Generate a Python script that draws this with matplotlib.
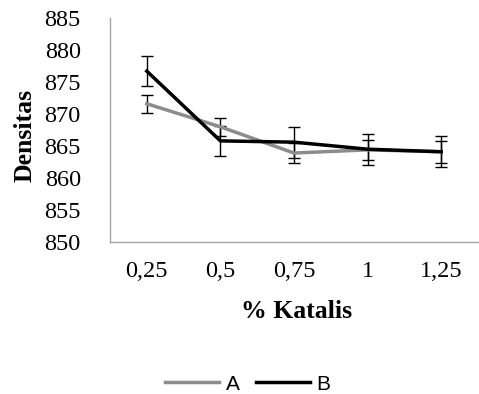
import numpy as np
import matplotlib.pyplot as plt

categories = ["0,25", "0,5", "0,75", "1", "1,25"]
series_a = [871.6, 868.0, 863.9, 864.4, 864.1]
series_b = [876.7, 865.8, 865.6, 864.5, 864.1]
err_a = [1.4, 1.4, 1.6, 1.6, 1.7]
err_b = [2.4, 2.4, 2.4, 2.4, 2.4]
y_ticks = [850, 855, 860, 865, 870, 875, 880, 885]

serif = ["Liberation Serif", "DejaVu Serif"]
sans = ["Liberation Sans", "DejaVu Sans"]
W, H = 479, 394

fig = plt.figure(figsize=(W / 100, H / 100), dpi=100)
ax = fig.add_axes([110 / W, 1 - 242 / H, 368 / W, 224 / H])

x = np.arange(len(categories))
ax.errorbar(x, series_a, yerr=err_a, color="#8c8c8c", linewidth=2.5,
            ecolor="black", elinewidth=1.0, capsize=4, capthick=1.0, label="A")
ax.errorbar(x, series_b, yerr=err_b, color="black", linewidth=2.5,
            ecolor="black", elinewidth=1.0, capsize=4, capthick=1.0, label="B")

ax.set_xlim(-0.5, len(categories) - 0.5)
ax.set_ylim(850, 885)
ax.set_xticks(x)
ax.set_xticklabels(categories, family=serif, fontsize=17.5)
ax.set_yticks(y_ticks)
ax.set_yticklabels([str(v) for v in y_ticks], family=serif, fontsize=17.5)
ax.tick_params(axis="x", length=0, pad=14)
ax.tick_params(axis="y", length=0, pad=21)

for side in ("top", "right"):
    ax.spines[side].set_visible(False)
for side in ("left", "bottom"):
    ax.spines[side].set_color("#a6a6a6")
    ax.spines[side].set_linewidth(1.0)

# axis titles placed where the reference has them
fig.text(25 / W, 1 - 135 / H, "Densitas", family=serif, fontsize=18.5,
         fontweight="bold", rotation=90, ha="center", va="center")
fig.text(297 / W, 1 - 312 / H, "% Katalis", family=serif, fontsize=18.5,
         fontweight="bold", ha="center", va="center")

handles, labels = ax.get_legend_handles_labels()
handles = [h[0] for h in handles]
fig.legend(handles, labels, loc="center", bbox_to_anchor=(248 / W, 1 - 384 / H),
           ncol=2, frameon=False, prop={"family": sans, "size": 15},
           handlelength=2.6, handletextpad=0.3, columnspacing=0.8)

fig.savefig("out.png", dpi=100)
